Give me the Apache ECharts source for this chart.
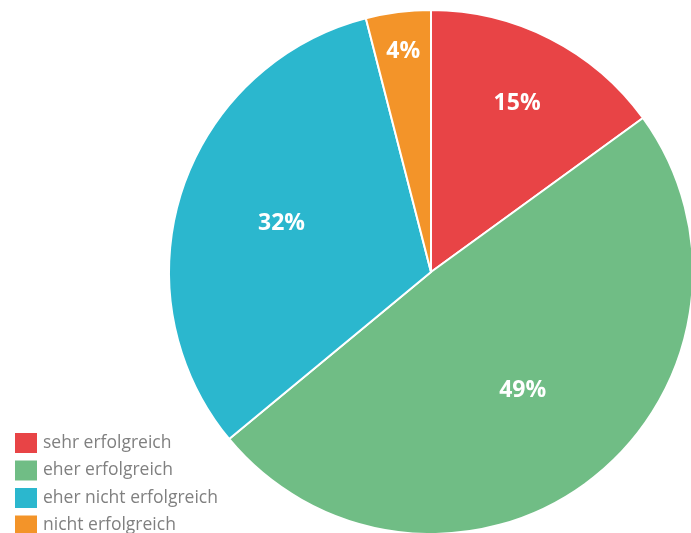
<!DOCTYPE html>
<html>
<head>
<meta charset="utf-8">
<script src="https://cdn.jsdelivr.net/npm/echarts@6/dist/echarts.min.js"></script>
<style>
  html, body { margin: 0; padding: 0; background: #ffffff; }
  #chart { width: 691px; height: 533px; }
</style>
</head>
<body>
<div id="chart"></div>
<script>
// Answers to "how successful?" (shares in percent)
const categories = ['sehr erfolgreich', 'eher erfolgreich', 'eher nicht erfolgreich', 'nicht erfolgreich'];
const shares = [15, 49, 32, 4];
const colors = ['#E84446', '#70BD85', '#2BB7CE', '#F39429'];
// How far out each percentage label sits, as a fraction of the radius
const labelRadius = [0.724, 0.571, 0.6, 0.847];

const center = [431, 272];
const radius = 262;
const startAngle = 90;

const total = shares.reduce((a, b) => a + b, 0);

const chart = echarts.init(document.getElementById('chart'), null, { renderer: 'canvas' });

chart.setOption({
  animation: false,
  color: colors,
  legend: {
    orient: 'vertical',
    left: 13,
    top: 431,
    height: 140,
    icon: 'rect',
    itemWidth: 24,
    itemHeight: 22,
    itemGap: 3.5,
    padding: 0,
    data: categories,
    textStyle: {
      color: '#808080',
      fontSize: 17.5,
      fontFamily: 'Open Sans'
    }
  },
  series: [{
    type: 'pie',
    center: center,
    radius: [0, radius],
    startAngle: startAngle,
    clockwise: true,
    itemStyle: { borderColor: '#ffffff', borderWidth: 2 },
    label: {
      position: 'inside',
      formatter: '{c}%',
      color: '#ffffff',
      fontSize: 23,
      fontWeight: 'bold',
      fontFamily: 'Open Sans'
    },
    labelLayout: function (params) {
      // Place each label on its slice's bisector at its own radius
      const i = params.dataIndex;
      let before = 0;
      for (let k = 0; k < i; k++) before += shares[k];
      const mid = (before + shares[i] / 2) / total;
      const ang = (startAngle - mid * 360) * Math.PI / 180;
      const d = radius * labelRadius[i];
      return {
        x: center[0] + d * Math.cos(ang),
        y: center[1] - d * Math.sin(ang),
        align: 'center',
        verticalAlign: 'middle'
      };
    },
    labelLine: { show: false },
    emphasis: { disabled: true },
    data: categories.map((name, i) => ({ name: name, value: shares[i] }))
  }]
});
</script>
</body>
</html>
